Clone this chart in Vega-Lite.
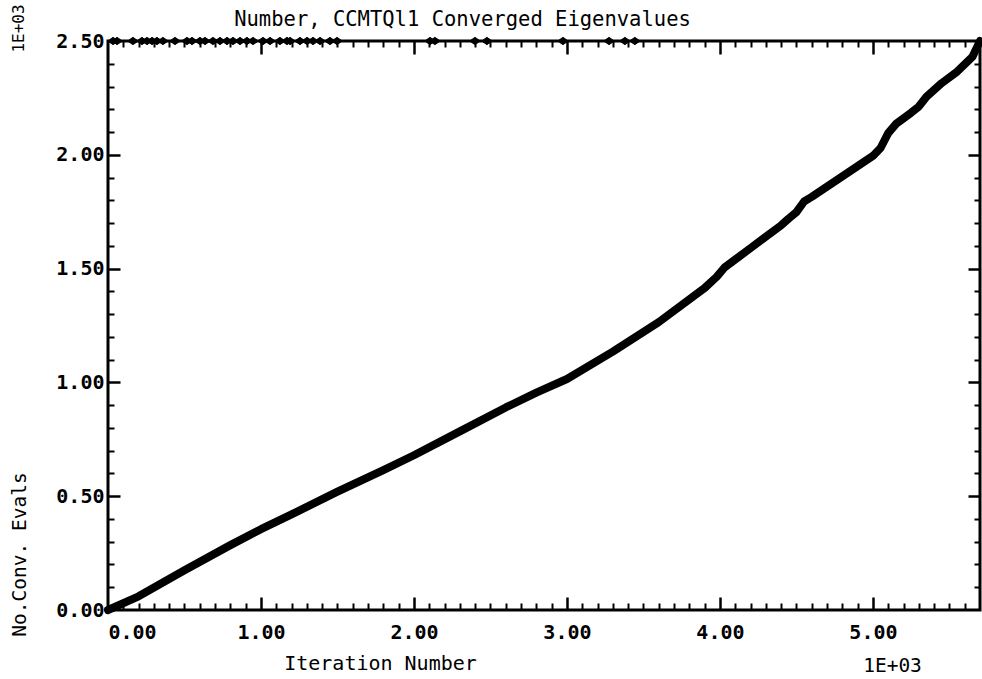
{
  "$schema": "https://vega.github.io/schema/vega-lite/v6.json",
  "width": 872,
  "height": 569,
  "autosize": {"type": "none"},
  "padding": {"left": 108, "top": 41, "right": 2, "bottom": 69},
  "background": "white",
  "config": {
    "view": {"stroke": "black", "strokeWidth": 3},
    "axis": {"domain": false, "grid": false, "tickColor": "black", "labelColor": "black", "titleColor": "black", "labelOverlap": false}
  },
  "datasets": {
    "curve": [
      {"iteration": 0, "evals": 0},
      {"iteration": 200, "evals": 60},
      {"iteration": 500, "evals": 175},
      {"iteration": 800, "evals": 285},
      {"iteration": 1000, "evals": 355},
      {"iteration": 1200, "evals": 420},
      {"iteration": 1500, "evals": 520},
      {"iteration": 1800, "evals": 615},
      {"iteration": 2000, "evals": 680},
      {"iteration": 2300, "evals": 785},
      {"iteration": 2600, "evals": 890},
      {"iteration": 2800, "evals": 955},
      {"iteration": 3000, "evals": 1015},
      {"iteration": 3300, "evals": 1135},
      {"iteration": 3600, "evals": 1265},
      {"iteration": 3900, "evals": 1415},
      {"iteration": 3980, "evals": 1465},
      {"iteration": 4030, "evals": 1505},
      {"iteration": 4100, "evals": 1540},
      {"iteration": 4200, "evals": 1590},
      {"iteration": 4400, "evals": 1690},
      {"iteration": 4450, "evals": 1720},
      {"iteration": 4500, "evals": 1748},
      {"iteration": 4550, "evals": 1795},
      {"iteration": 4600, "evals": 1815},
      {"iteration": 4800, "evals": 1905},
      {"iteration": 4900, "evals": 1950},
      {"iteration": 5000, "evals": 1995},
      {"iteration": 5050, "evals": 2030},
      {"iteration": 5100, "evals": 2095},
      {"iteration": 5150, "evals": 2135},
      {"iteration": 5250, "evals": 2185},
      {"iteration": 5300, "evals": 2212},
      {"iteration": 5350, "evals": 2255},
      {"iteration": 5450, "evals": 2315},
      {"iteration": 5550, "evals": 2365},
      {"iteration": 5650, "evals": 2430},
      {"iteration": 5700, "evals": 2500}
    ],
    "marks": [
      {"iteration": 33, "evals": 2500}, {"iteration": 59, "evals": 2500}, {"iteration": 163, "evals": 2500},
      {"iteration": 222, "evals": 2500}, {"iteration": 255, "evals": 2500}, {"iteration": 288, "evals": 2500},
      {"iteration": 320, "evals": 2500}, {"iteration": 359, "evals": 2500}, {"iteration": 438, "evals": 2500},
      {"iteration": 516, "evals": 2500}, {"iteration": 549, "evals": 2500}, {"iteration": 601, "evals": 2500},
      {"iteration": 634, "evals": 2500}, {"iteration": 686, "evals": 2500}, {"iteration": 732, "evals": 2500},
      {"iteration": 778, "evals": 2500}, {"iteration": 817, "evals": 2500}, {"iteration": 863, "evals": 2500},
      {"iteration": 908, "evals": 2500}, {"iteration": 948, "evals": 2500}, {"iteration": 1013, "evals": 2500},
      {"iteration": 1059, "evals": 2500}, {"iteration": 1124, "evals": 2500}, {"iteration": 1170, "evals": 2500},
      {"iteration": 1190, "evals": 2500}, {"iteration": 1255, "evals": 2500}, {"iteration": 1301, "evals": 2500},
      {"iteration": 1340, "evals": 2500}, {"iteration": 1386, "evals": 2500}, {"iteration": 1451, "evals": 2500},
      {"iteration": 1497, "evals": 2500}, {"iteration": 2105, "evals": 2500}, {"iteration": 2137, "evals": 2500},
      {"iteration": 2399, "evals": 2500}, {"iteration": 2477, "evals": 2500}, {"iteration": 2974, "evals": 2500},
      {"iteration": 3275, "evals": 2500}, {"iteration": 3379, "evals": 2500}, {"iteration": 3444, "evals": 2500}
    ]
  },
  "layer": [
    {
      "data": {"name": "curve"},
      "mark": {"type": "line", "color": "black", "strokeWidth": 8, "strokeCap": "round", "strokeJoin": "round"},
      "encoding": {
        "x": {
          "field": "iteration", "type": "quantitative",
          "scale": {"domain": [0, 5700], "nice": false, "zero": false},
          "axis": {
            "orient": "bottom", "values": [0, 1000, 2000, 3000, 4000, 5000], "ticks": false,
            "labelExpr": "format(datum.value / 1000, '.2f')",
            "labelFont": "DejaVu Sans Mono", "labelFontSize": 20, "labelFontWeight": "bold",
            "labelPadding": 12, "labelFlush": true,
            "title": "Iteration Number", "titleFont": "DejaVu Sans Mono", "titleFontSize": 20, "titleFontWeight": "normal",
            "titleX": 272, "titleY": 59, "titleBaseline": "alphabetic", "titleAlign": "center"
          }
        },
        "y": {
          "field": "evals", "type": "quantitative",
          "scale": {"domain": [0, 2500], "nice": false, "zero": false},
          "axis": {
            "orient": "left", "values": [0, 500, 1000, 1500, 2000, 2500], "ticks": false,
            "labelExpr": "format(datum.value / 1000, '.2f')",
            "labelFont": "DejaVu Sans Mono", "labelFontSize": 20, "labelFontWeight": "bold",
            "labelPadding": 4, "labelFlush": false,
            "title": "No.Conv. Evals", "titleFont": "DejaVu Sans Mono", "titleFontSize": 19.5, "titleFontWeight": "normal",
            "titleX": -89, "titleY": 513, "titleBaseline": "middle", "titleAlign": "center", "titleAngle": 270
          }
        }
      }
    },
    {
      "data": {"name": "marks"},
      "mark": {"type": "point", "shape": "M-1,0L0,-0.7L1,0L0,0.7Z", "filled": true, "fill": "black", "stroke": "black", "strokeWidth": 1, "size": 110, "opacity": 1, "fillOpacity": 1},
      "encoding": {
        "x": {
          "field": "iteration", "type": "quantitative",
          "scale": {"domain": [0, 5700], "nice": false, "zero": false},
          "axis": {
            "orient": "bottom", "values": [1000, 2000, 3000, 4000, 5000], "labels": false,
            "tickSize": -13, "tickWidth": 2.5,
            "title": "1E+03", "titleFont": "DejaVu Sans Mono", "titleFontSize": 19.5, "titleFontWeight": "normal",
            "titleX": 784, "titleY": 61, "titleBaseline": "alphabetic", "titleAlign": "center"
          }
        },
        "y": {
          "field": "evals", "type": "quantitative",
          "scale": {"domain": [0, 2500], "nice": false, "zero": false},
          "axis": {
            "orient": "left", "values": [500, 1000, 1500, 2000], "labels": false,
            "tickSize": -12, "tickWidth": 2.5,
            "title": "1E+03", "titleFont": "DejaVu Sans Mono", "titleFontSize": 16, "titleFontWeight": "normal",
            "titleX": -90, "titleY": -13, "titleBaseline": "middle", "titleAlign": "center", "titleAngle": 270
          }
        }
      }
    },
    {
      "data": {"name": "marks"},
      "mark": {"type": "point", "opacity": 0},
      "encoding": {
        "x": {
          "field": "iteration", "type": "quantitative",
          "scale": {"domain": [0, 5700], "nice": false, "zero": false},
          "axis": {
            "orient": "bottom", "labels": false, "title": null, "tickSize": -7, "tickWidth": 2,
            "values": [100, 200, 300, 400, 500, 600, 700, 800, 900, 1100, 1200, 1300, 1400, 1500, 1600, 1700, 1800, 1900, 2100, 2200, 2300, 2400, 2500, 2600, 2700, 2800, 2900, 3100, 3200, 3300, 3400, 3500, 3600, 3700, 3800, 3900, 4100, 4200, 4300, 4400, 4500, 4600, 4700, 4800, 4900, 5100, 5200, 5300, 5400, 5500, 5600]
          }
        },
        "y": {
          "field": "evals", "type": "quantitative",
          "scale": {"domain": [0, 2500], "nice": false, "zero": false},
          "axis": {
            "orient": "left", "labels": false, "title": null, "tickSize": -6, "tickWidth": 2,
            "values": [100, 200, 300, 400, 600, 700, 800, 900, 1100, 1200, 1300, 1400, 1600, 1700, 1800, 1900, 2100, 2200, 2300, 2400]
          }
        }
      }
    },
    {
      "data": {"name": "marks"},
      "mark": {"type": "point", "opacity": 0},
      "encoding": {
        "x": {
          "field": "iteration", "type": "quantitative",
          "scale": {"domain": [0, 5700], "nice": false, "zero": false},
          "axis": {
            "orient": "top", "labels": false, "tickSize": -13, "tickWidth": 2.5, "values": [1000, 2000, 3000, 4000, 5000],
            "title": "Number, CCMTQl1 Converged Eigenvalues", "titleFont": "DejaVu Sans Mono", "titleFontSize": 20.5, "titleFontWeight": "normal",
            "titleX": 354, "titleY": -16, "titleBaseline": "alphabetic", "titleAlign": "center"
          }
        },
        "y": {
          "field": "evals", "type": "quantitative",
          "scale": {"domain": [0, 2500], "nice": false, "zero": false},
          "axis": {"orient": "right", "labels": false, "title": null, "tickSize": -12, "tickWidth": 2.5, "values": [500, 1000, 1500, 2000]}
        }
      }
    },
    {
      "data": {"name": "marks"},
      "mark": {"type": "point", "opacity": 0},
      "encoding": {
        "x": {
          "field": "iteration", "type": "quantitative",
          "scale": {"domain": [0, 5700], "nice": false, "zero": false},
          "axis": {
            "orient": "top", "labels": false, "title": null, "tickSize": -6, "tickWidth": 2,
            "values": [100, 200, 300, 400, 500, 600, 700, 800, 900, 1100, 1200, 1300, 1400, 1500, 1600, 1700, 1800, 1900, 2100, 2200, 2300, 2400, 2500, 2600, 2700, 2800, 2900, 3100, 3200, 3300, 3400, 3500, 3600, 3700, 3800, 3900, 4100, 4200, 4300, 4400, 4500, 4600, 4700, 4800, 4900, 5100, 5200, 5300, 5400, 5500, 5600]
          }
        },
        "y": {
          "field": "evals", "type": "quantitative",
          "scale": {"domain": [0, 2500], "nice": false, "zero": false},
          "axis": {
            "orient": "right", "labels": false, "title": null, "tickSize": -6, "tickWidth": 2,
            "values": [100, 200, 300, 400, 600, 700, 800, 900, 1100, 1200, 1300, 1400, 1600, 1700, 1800, 1900, 2100, 2200, 2300, 2400]
          }
        }
      }
    }
  ],
  "resolve": {"axis": {"x": "independent", "y": "independent"}}
}
